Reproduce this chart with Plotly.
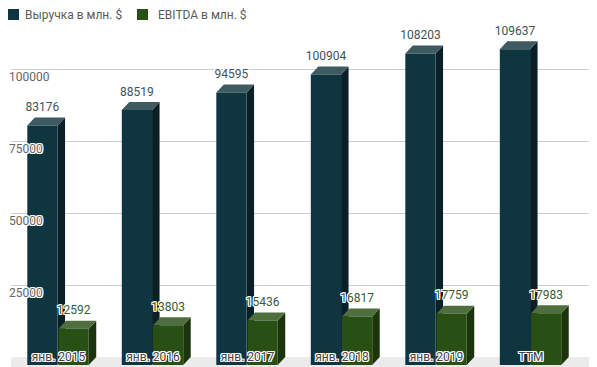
import plotly.graph_objects as go

categories = ["янв. 2015", "янв. 2016", "янв. 2017", "янв. 2018", "янв. 2019", "TTM"]
revenue = [83176, 88519, 94595, 100904, 108203, 109637]
ebitda = [12592, 13803, 15436, 16817, 17759, 17983]
series_names = ["Выручка в млн. $", "EBITDA в млн. $"]
y_ticks = [25000, 50000, 75000, 100000]

# style / geometry (not data); the page body adds an 8px offset
OFF = 8
W, H = 597 - OFF, 367 - OFF
LEFT = 3
PX_PER_CAT = 94.5
C0 = 58.5 - OFF - LEFT
ZERO_Y = 357 - OFF
PX_PER_UNIT = 288 / 100000
TOP = 20 - OFF
DX = 7.5 / PX_PER_CAT
DY = 8 / PX_PER_UNIT
BW = 0.32
LABEL_PAD = 3.5 / PX_PER_UNIT
PW, PH = W - LEFT, H - TOP

x_lo = -C0 / PX_PER_CAT
x_hi = (W - LEFT - C0) / PX_PER_CAT
y_lo = -(H - ZERO_Y) / PX_PER_UNIT
y_hi = (ZERO_Y - TOP) / PX_PER_UNIT

colors = {
    "rev": ("#0e3540", "#3e5b60", "#0a2026"),
    "ebi": ("#284f14", "#4e6e3e", "#1b340d"),
}
label_col = {"rev": "#3e5358", "ebi": "#3d5a2e"}
halo = "1px 1px 0 #fff, -1px -1px 0 #fff, 1px -1px 0 #fff, -1px 1px 0 #fff, 0 1px 0 #fff, 0 -1px 0 #fff, 1px 0 0 #fff, -1px 0 0 #fff"


def px_x(p):
    return (p - OFF - LEFT) / PW


def px_y(p):
    return (H - (p - OFF)) / PH


def faces(values, off_l, off_r):
    front_x, front_y, top_x, top_y, side_x, side_y = [], [], [], [], [], []
    for i, v in enumerate(values):
        xl, xr = i + off_l, i + off_r
        front_x += [xl, xr, xr, xl, xl, None]
        front_y += [-DY, -DY, v - DY, v - DY, -DY, None]
        top_x += [xl, xr, xr + DX, xl + DX, xl, None]
        top_y += [v - DY, v - DY, v, v, v - DY, None]
        side_x += [xr, xr + DX, xr + DX, xr, xr, None]
        side_y += [-DY, 0, v, v - DY, -DY, None]
    return (front_x, front_y), (top_x, top_y), (side_x, side_y)


fig = go.Figure()

# floor
fig.add_trace(go.Scatter(
    x=[x_lo + DX * 0.2, x_hi + 1, x_hi + 1, x_lo - 1, x_lo - 1, x_lo - DX * 0.8],
    y=[0, 0, y_lo - 1000, y_lo - 1000, -DY, -DY],
    fill="toself", fillcolor="#ebebeb", mode="none", hoverinfo="skip", showlegend=False))

rev_f, rev_t, rev_s = faces(revenue, -0.33, -0.01)
ebi_f, ebi_t, ebi_s = faces(ebitda, 0.0, BW)

for key, (fr, tp, sd) in (("rev", (rev_f, rev_t, rev_s)), ("ebi", (ebi_f, ebi_t, ebi_s))):
    cf, ct, cs = colors[key]
    for (xs, ys), c in ((sd, cs), (tp, ct), (fr, cf)):
        fig.add_trace(go.Scatter(x=xs, y=ys, fill="toself", fillcolor=c, mode="none",
                                 hoverinfo="skip", showlegend=False))

# value labels
fig.add_trace(go.Scatter(
    x=[i - 0.17 for i in range(len(revenue))], y=[v + LABEL_PAD for v in revenue], mode="text",
    text=[str(v) for v in revenue], textposition="top center",
    textfont=dict(family="Roboto", size=12, color=label_col["rev"], shadow=halo),
    hoverinfo="skip", showlegend=False, cliponaxis=False))
fig.add_trace(go.Scatter(
    x=[i + 0.16 for i in range(len(ebitda))], y=[v + LABEL_PAD for v in ebitda], mode="text",
    text=[str(v) for v in ebitda], textposition="top center",
    textfont=dict(family="Roboto", size=12, color=label_col["ebi"], shadow=halo),
    hoverinfo="skip", showlegend=False, cliponaxis=False))

# legend (swatch + text) at top-left
legend_pos = [(8, 24), (137, 157)]
shapes, annotations = [], []
for name, key, (sq_x, tx_x) in zip(series_names, ("rev", "ebi"), legend_pos):
    shapes.append(dict(type="rect", xref="paper", yref="paper",
                       x0=px_x(sq_x), x1=px_x(sq_x + 11), y0=px_y(9), y1=px_y(20),
                       fillcolor=colors[key][0], line=dict(width=0)))
    annotations.append(dict(xref="paper", yref="paper", x=px_x(tx_x), y=px_y(14.5),
                            xanchor="left", yanchor="middle", text=name, showarrow=False,
                            borderpad=0, font=dict(family="Roboto", size=12, color="#5b5b5b")))

fig.update_layout(
    width=W, height=H,
    margin=dict(l=LEFT, r=0, t=TOP, b=0, autoexpand=False),
    paper_bgcolor="white", plot_bgcolor="white",
    font=dict(family="Roboto", size=12, color="#555555"),
    showlegend=False,
    shapes=shapes, annotations=annotations,
    xaxis=dict(range=[x_lo, x_hi], showgrid=False, zeroline=False, showline=False,
               tickvals=list(range(len(categories))), ticktext=categories,
               ticks="", ticklabelposition="inside", ticklabelstandoff=1,
               tickfont=dict(family="Roboto", size=12, color="#444444", shadow=halo)),
    yaxis=dict(range=[y_lo, y_hi], showgrid=True, gridcolor="#cccccc", gridwidth=1,
               zeroline=True, zerolinecolor="#333333", zerolinewidth=1,
               tickvals=y_ticks, ticktext=[str(v) for v in y_ticks],
               ticks="", ticklabelposition="inside", ticklabelshift=8, ticklabelstandoff=-5,
               tickfont=dict(family="Roboto", size=12, color="#666666", shadow=halo)),
)

fig.write_html("out.html")
